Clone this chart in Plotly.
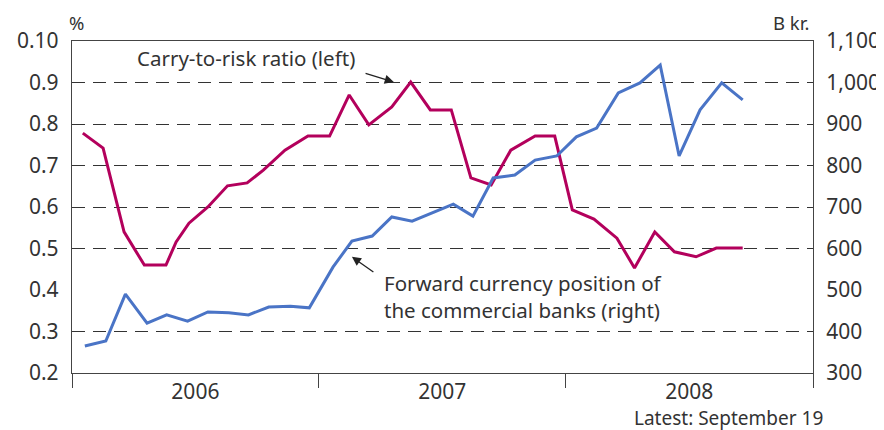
import plotly.graph_objects as go

# Carry-to-risk ratio (left axis, %)
carry_dates = ["2006-01-17", "2006-02-16", "2006-03-19", "2006-04-18", "2006-05-20",
               "2006-06-04", "2006-06-23", "2006-07-21", "2006-08-19", "2006-09-17",
               "2006-10-11", "2006-11-12", "2006-12-16", "2007-01-17", "2007-02-15",
               "2007-03-16", "2007-04-19", "2007-05-17", "2007-06-15", "2007-07-16",
               "2007-08-14", "2007-09-13", "2007-10-12", "2007-11-17", "2007-12-16",
               "2008-01-11", "2008-02-12", "2008-03-17", "2008-04-12", "2008-05-12",
               "2008-06-10", "2008-07-12", "2008-08-11", "2008-09-19"]
carry_values = [0.778, 0.742, 0.540, 0.460, 0.460, 0.516, 0.561, 0.600, 0.651, 0.658,
                0.689, 0.737, 0.771, 0.771, 0.870, 0.798, 0.841, 0.901, 0.834, 0.834,
                0.670, 0.653, 0.737, 0.771, 0.771, 0.593, 0.571, 0.525, 0.453, 0.540,
                0.492, 0.480, 0.501, 0.501]

# Forward currency position of the commercial banks (right axis, B kr.)
fwd_dates = ["2006-01-20", "2006-02-20", "2006-03-21", "2006-04-22", "2006-05-21",
             "2006-06-21", "2006-07-21", "2006-08-21", "2006-09-19", "2006-10-19",
             "2006-11-20", "2006-12-18", "2007-01-22", "2007-02-19", "2007-03-21",
             "2007-04-19", "2007-05-19", "2007-06-18", "2007-07-19", "2007-08-17",
             "2007-09-16", "2007-10-18", "2007-11-17", "2007-12-19", "2008-01-17",
             "2008-02-16", "2008-03-19", "2008-04-20", "2008-05-20", "2008-06-17",
             "2008-07-18", "2008-08-19", "2008-09-19"]
fwd_values = [365, 377, 490, 420, 440, 425, 447, 445, 440, 459,
              461, 457, 555, 618, 630, 676, 666, 686, 707, 678,
              770, 777, 813, 823, 869, 890, 975, 999, 1042, 823,
              934, 999, 958]

left_ticks = [0.2, 0.3, 0.4, 0.5, 0.6, 0.7, 0.8, 0.9, 1.0]
left_ticktext = ["0.2", "0.3", "0.4", "0.5", "0.6", "0.7", "0.8", "0.9", "0.10"]
grid_ticks = [0.3, 0.5, 0.6, 0.7, 0.8, 0.9]

TXT = "#333333"
FONT = "Noto Sans"
TICK_SIZE = 21
NOTE_SIZE = 20.5

fig = go.Figure()
fig.add_trace(go.Scatter(x=fwd_dates, y=fwd_values, mode="lines", yaxis="y2",
                         line=dict(color="#4a74c6", width=3), name="Forward"))
fig.add_trace(go.Scatter(x=carry_dates, y=carry_values, mode="lines", yaxis="y",
                         line=dict(color="#b3005c", width=3), name="Carry"))
# Invisible trace so the tick/grid helper axes are drawn
fig.add_trace(go.Scatter(x=[carry_dates[0]], y=[carry_values[0]], xaxis="x2",
                         yaxis="y3", mode="markers", marker=dict(opacity=0),
                         hoverinfo="skip"))

xrange = ["2006-01-01", "2009-01-01"]
fig.update_layout(
    width=876, height=422,
    margin=dict(l=64, r=71, t=33, b=57, autoexpand=False),
    paper_bgcolor="white", plot_bgcolor="white",
    showlegend=False,
    font=dict(family=FONT, color=TXT, size=TICK_SIZE),
    xaxis=dict(type="date", range=xrange,
               tick0="2006-01-01", dtick="M12", ticklabelmode="period",
               tickformat="%Y", ticks="", showline=True, linecolor="#444",
               linewidth=1.3, mirror=True, showgrid=False, zeroline=False,
               automargin=False, tickfont=dict(size=TICK_SIZE, color=TXT)),
    xaxis2=dict(type="date", range=xrange, overlaying="x", anchor="y",
                tick0="2006-01-01", dtick="M12", ticks="outside", ticklen=14,
                tickwidth=1.3, tickcolor="#444", showticklabels=False,
                showline=False, showgrid=False, zeroline=False, automargin=False),
    yaxis=dict(range=[0.2, 1.0], tickvals=left_ticks, ticktext=left_ticktext,
               showline=True, linecolor="#444", linewidth=1.3, ticks="",
               showgrid=False, zeroline=False, ticklabelstandoff=8,
               automargin=False, tickfont=dict(size=TICK_SIZE, color=TXT)),
    yaxis2=dict(range=[300, 1100], dtick=100, tick0=300, tickformat=",",
                overlaying="y", side="right", showline=True, linecolor="#444",
                linewidth=1.3, ticks="", showgrid=False, zeroline=False,
                automargin=False, ticklabelstandoff=8,
                tickfont=dict(size=TICK_SIZE, color=TXT)),
    yaxis3=dict(range=[0.2, 1.0], tickvals=grid_ticks, overlaying="y",
                showticklabels=False, showgrid=True, gridcolor="#333",
                gridwidth=1.4, griddash="13px,8px", zeroline=False,
                showline=False, automargin=False),
)

fig.add_annotation(text="%", xref="paper", yref="paper", x=0.0, y=1.0,
                   xanchor="left", yanchor="middle", xshift=-4, yshift=19,
                   borderpad=0, showarrow=False, font=dict(size=18.5, color=TXT))
fig.add_annotation(text="B kr.", xref="paper", yref="paper", x=1.0, y=1.0,
                   xanchor="right", yanchor="middle", xshift=-3, yshift=19,
                   borderpad=0, showarrow=False, font=dict(size=18.5, color=TXT))
fig.add_annotation(text="Latest: September 19", xref="paper", yref="paper",
                   x=1.0, y=0.0, xanchor="right", yanchor="middle", xshift=11,
                   yshift=-45, borderpad=0, showarrow=False,
                   font=dict(size=19, color=TXT))

fig.add_annotation(text="Carry-to-risk ratio (left)", xref="x", yref="y",
                   x="2006-04-04", y=0.959, xanchor="left", yanchor="middle",
                   showarrow=False, font=dict(size=NOTE_SIZE, color=TXT))
fig.add_annotation(x="2007-04-22", y=0.901, ax="2007-03-09", ay=0.923,
                   xref="x", yref="y", axref="x", ayref="y", text="",
                   showarrow=True, arrowhead=2, arrowsize=1.4, arrowwidth=1.3,
                   arrowcolor="#222")
fig.add_annotation(text="Forward currency position of<br>the commercial banks (right)",
                   xref="x", yref="y", x="2007-04-05", y=0.384, xanchor="left",
                   yanchor="middle", align="left", showarrow=False,
                   font=dict(size=NOTE_SIZE, color=TXT))
fig.add_annotation(x="2007-02-19", y=0.480, ax="2007-03-25", ay=0.441,
                   xref="x", yref="y", axref="x", ayref="y", text="",
                   showarrow=True, arrowhead=2, arrowsize=1.4, arrowwidth=1.3,
                   arrowcolor="#222")

fig.write_html("out.html")
